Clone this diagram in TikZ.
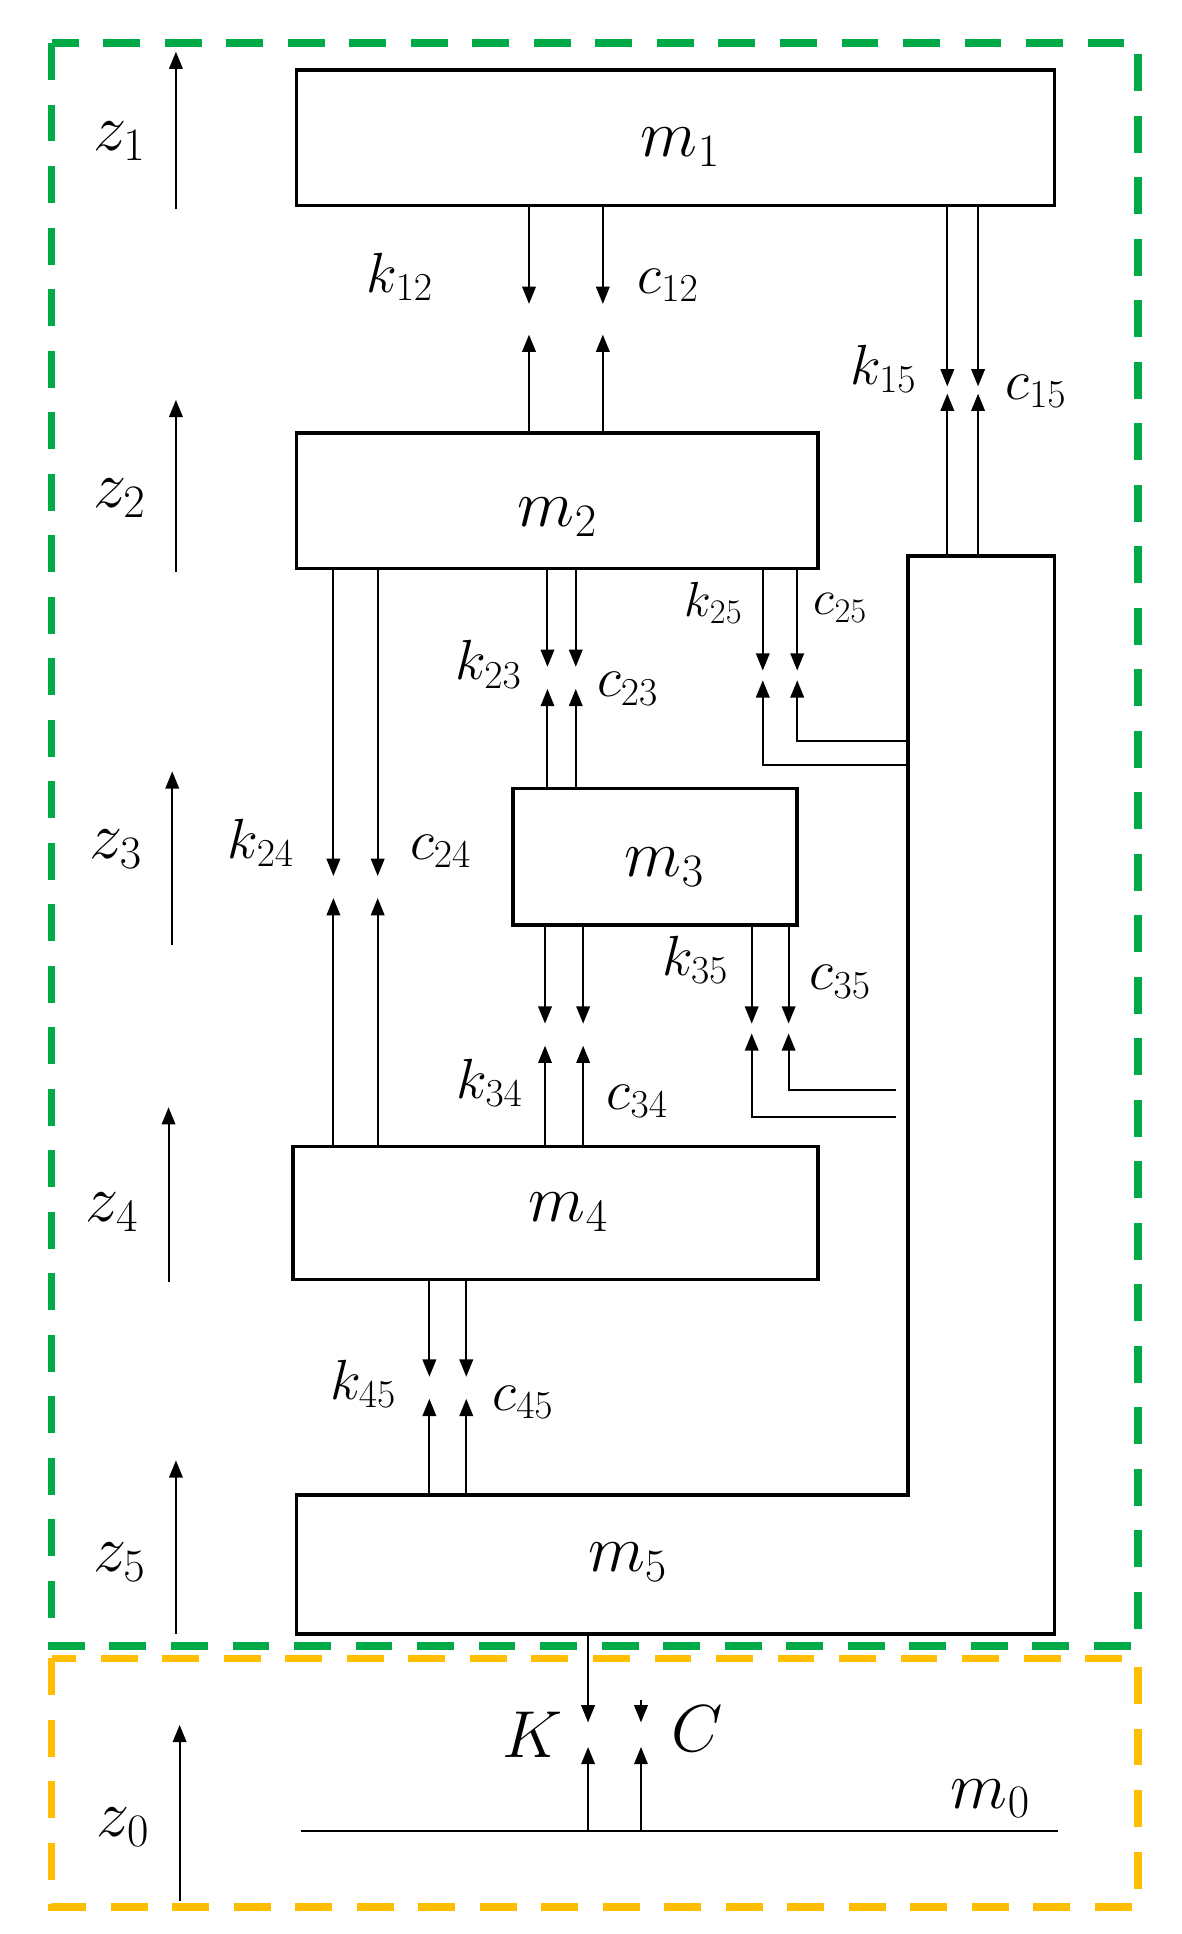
\RequirePackage{fix-cm}
\documentclass[tikz,border=0pt]{standalone}
\usetikzlibrary{arrows.meta}
\definecolor{gr}{RGB}{0,170,70}
\definecolor{yo}{RGB}{255,190,0}
\begin{document}
\begin{tikzpicture}[x=1pt,y=-1pt,
 box/.style={draw,line width=3pt},
 ln/.style={line width=1.6pt},
 ar/.style={line width=1.6pt,-{Triangle[length=14pt,width=11pt]}},
 lab/.style={font=\fontsize{54}{54}\selectfont,inner sep=0pt},
 sl/.style={font=\fontsize{46}{46}\selectfont,inner sep=0pt},
 ss/.style={font=\fontsize{40}{40}\selectfont,inner sep=0pt}]
\useasboundingbox (0,0) rectangle (960,1572);
\draw[gr,line width=6pt,dash pattern=on 30pt off 20pt] (42,35) rectangle (925,1338);
\draw[yo,line width=6pt,dash pattern=on 30pt off 20pt] (42,1348) rectangle (925,1550);
% masses
\draw[box] (241,57) rectangle (857,167);
\draw[box] (241,352) rectangle (665,462);
\draw[box] (417,641) rectangle (648,752);
\draw[box] (238,932) rectangle (665,1040);
\draw[box] (241,1215) -- (241,1328) -- (857,1328) -- (857,452) -- (738,452) -- (738,1215) -- cycle;
\draw[ln] (245,1488) -- (860,1488);
\node[lab] at (553,120) {$m_1$};
\node[lab] at (453,420) {$m_2$};
\node[lab] at (540,705) {$m_3$};
\node[lab] at (462,985) {$m_4$};
\node[lab] at (510,1270) {$m_5$};
\node[lab] at (805,1462) {$m_0$};
% z arrows
\foreach \x/\a/\b/\l/\ly in {143/170/42/1/115,143/465/325/2/405,140/768/627/3/690,137/1042/900/4/985,143/1328/1187/5/1270,146/1545/1402/0/1485}
 {\draw[ar] (\x,\a) -- (\x,\b); \node[lab] at (\x-46,\ly) {$z_\l$};}
% k12 c12
\foreach \x in {430,490}{\draw[ar] (\x,167)--(\x,247); \draw[ar] (\x,352)--(\x,272);}
\node[sl] at (325,225) {$k_{12}$}; \node[sl] at (543,232) {$c_{12}$};
% k15
\foreach \x in {770,795}{\draw[ar] (\x,167)--(\x,314); \draw[ar] (\x,452)--(\x,320);}
\node[sl] at (718,300) {$k_{15}$}; \node[sl] at (842,318) {$c_{15}$};
% k23
\foreach \x in {445,468}{\draw[ar] (\x,462)--(\x,542); \draw[ar] (\x,641)--(\x,560);}
\node[sl] at (397,540) {$k_{23}$}; \node[sl] at (510,560) {$c_{23}$};
% k25
\foreach \x in {620,648}{\draw[ar] (\x,462)--(\x,545);}
\draw[ar] (738,622)--(620,622)--(620,553);
\draw[ar] (738,602)--(648,602)--(648,553);
\node[ss] at (580,490) {$k_{25}$}; \node[ss] at (683,494) {$c_{25}$};
% k24
\foreach \x in {271,307}{\draw[ar] (\x,462)--(\x,712); \draw[ar] (\x,932)--(\x,730);}
\node[sl] at (212,685) {$k_{24}$}; \node[sl] at (358,692) {$c_{24}$};
% k34
\foreach \x in {443,474}{\draw[ar] (\x,752)--(\x,832); \draw[ar] (\x,932)--(\x,850);}
\node[sl] at (398,880) {$k_{34}$}; \node[sl] at (518,895) {$c_{34}$};
% k35
\foreach \x in {611,641}{\draw[ar] (\x,752)--(\x,832);}
\draw[ar] (728,908)--(611,908)--(611,840);
\draw[ar] (728,886)--(641,886)--(641,840);
\node[sl] at (565,780) {$k_{35}$}; \node[sl] at (683,798) {$c_{35}$};
% k45
\foreach \x in {349,379}{\draw[ar] (\x,1040)--(\x,1119); \draw[ar] (\x,1215)--(\x,1137);}
\node[sl] at (295,1125) {$k_{45}$}; \node[sl] at (425,1140) {$c_{45}$};
% K C
\draw[ar] (478,1328)--(478,1400); \draw[ar] (521,1382)--(521,1400);
\draw[ar] (478,1488)--(478,1420); \draw[ar] (521,1488)--(521,1420);
\node[lab] at (433,1410) {$K$}; \node[lab] at (567,1405) {$C$};
\end{tikzpicture}
\end{document}
